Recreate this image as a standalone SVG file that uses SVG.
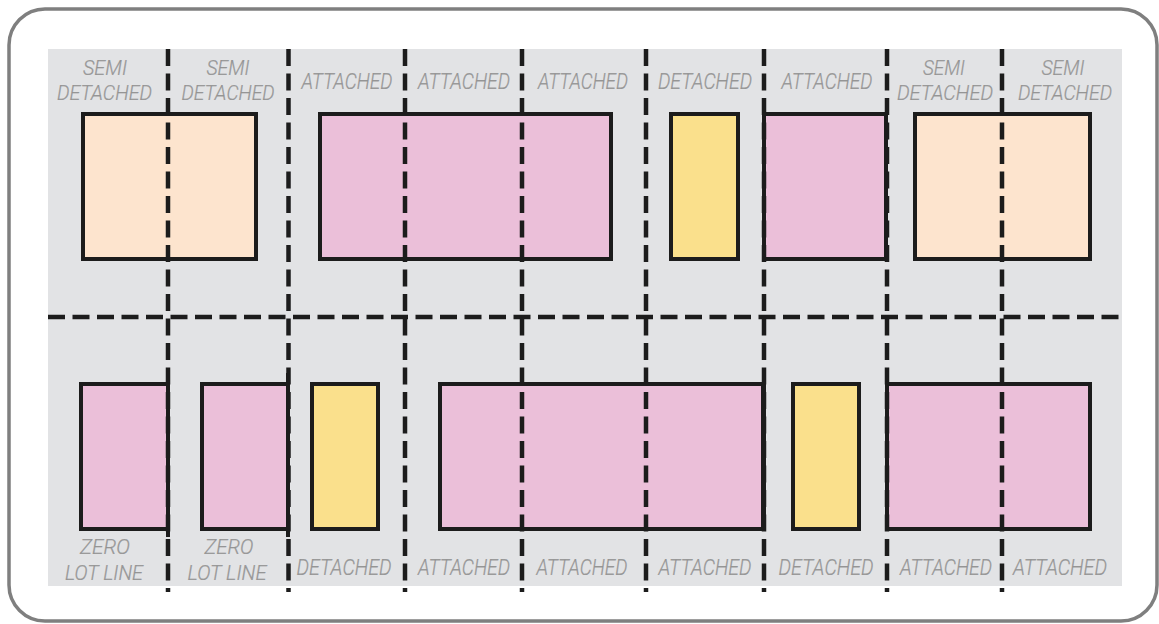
<svg xmlns="http://www.w3.org/2000/svg" width="1159" height="624" viewBox="0 0 1159 624">
<style>
.frame{fill:#fff;stroke:#7f7f7f;stroke-width:3.5}
.panel{fill:#e2e3e5}
.box{stroke:#1c1c1c;stroke-width:4}
.semi{fill:#fde4ce}
.att{fill:#ebbfd9}
.det{fill:#fae08c}
.lot{stroke:#1c1c1c;stroke-width:4.5;stroke-dasharray:17 7.5;fill:none}
.edge{stroke:#1c1c1c;stroke-width:4;fill:none}
text{font-family:Roboto,"Liberation Sans",Arial,sans-serif;font-weight:300;font-style:italic;text-anchor:middle;fill:#9a9a9a;stroke:#8a8a8a;stroke-width:0.2}
.l{font-size:22px}
.s{font-size:20px}
</style>
<rect class="frame" x="9" y="9" width="1148" height="612" rx="36"/>
<rect class="panel" x="48" y="49" width="1074" height="537"/>

<g id="row1">
<g id="n-semi1"><rect class="box semi" x="83" y="114" width="173" height="145"/></g>
<g id="n-att1"><rect class="box att" x="320" y="114" width="291" height="145"/></g>
<g id="n-det1"><rect class="box det" x="671" y="114" width="67" height="145"/></g>
<g id="n-att2"><rect class="box att" x="764" y="114" width="122" height="145"/></g>
<g id="n-semi2"><rect class="box semi" x="915" y="114" width="175" height="145"/></g>
</g>
<g id="row2">
<g id="n-zero1"><rect class="box att" x="81" y="384" width="87" height="145"/><line class="edge" x1="168" y1="373" x2="168" y2="537"/></g>
<g id="n-zero2"><rect class="box att" x="202" y="384" width="86" height="145"/><line class="edge" x1="288" y1="373" x2="288" y2="537"/></g>
<g id="n-det2"><rect class="box det" x="312" y="384" width="66" height="145"/></g>
<g id="n-att3"><rect class="box att" x="440" y="384" width="323" height="145"/></g>
<g id="n-det3"><rect class="box det" x="793" y="384" width="66" height="145"/></g>
<g id="n-att4"><rect class="box att" x="887" y="384" width="203" height="145"/></g>
</g>

<g id="connectors">
<line class="lot" x1="48" y1="317" x2="1122" y2="317"/>
<line class="lot" x1="168" y1="49" x2="168" y2="592"/>
<line class="lot" x1="288.5" y1="49" x2="288.5" y2="592"/>
<line class="lot" x1="405" y1="49" x2="405" y2="592"/>
<line class="lot" x1="522" y1="49" x2="522" y2="592"/>
<line class="lot" x1="646" y1="49" x2="646" y2="592"/>
<line class="lot" x1="764" y1="49" x2="764" y2="592"/>
<line class="lot" x1="887" y1="49" x2="887" y2="592"/>
<line class="lot" x1="1002" y1="49" x2="1002" y2="592"/>
<line class="edge" x1="764" y1="114" x2="764" y2="259"/>
<line class="edge" x1="887" y1="384" x2="887" y2="529"/>
<line class="edge" x1="764" y1="384" x2="764" y2="529"/>
</g>

<g id="labels-top">
<g id="t1"><text class="s" x="105" y="75" textLength="44" lengthAdjust="spacingAndGlyphs">SEMI</text><text class="s" x="104.5" y="100" textLength="95" lengthAdjust="spacingAndGlyphs">DETACHED</text></g>
<g id="t2"><text class="s" x="228" y="75" textLength="43" lengthAdjust="spacingAndGlyphs">SEMI</text><text class="s" x="228" y="100" textLength="93" lengthAdjust="spacingAndGlyphs">DETACHED</text></g>
<g id="t3"><text class="l" x="347" y="89" textLength="91" lengthAdjust="spacingAndGlyphs">ATTACHED</text></g>
<g id="t4"><text class="l" x="464" y="89" textLength="92" lengthAdjust="spacingAndGlyphs">ATTACHED</text></g>
<g id="t5"><text class="l" x="583" y="89" textLength="90" lengthAdjust="spacingAndGlyphs">ATTACHED</text></g>
<g id="t6"><text class="l" x="705" y="89" textLength="94" lengthAdjust="spacingAndGlyphs">DETACHED</text></g>
<g id="t7"><text class="l" x="827" y="89" textLength="91" lengthAdjust="spacingAndGlyphs">ATTACHED</text></g>
<g id="t8"><text class="s" x="944" y="75" textLength="42" lengthAdjust="spacingAndGlyphs">SEMI</text><text class="s" x="945" y="100" textLength="96" lengthAdjust="spacingAndGlyphs">DETACHED</text></g>
<g id="t9"><text class="s" x="1063" y="75" textLength="43" lengthAdjust="spacingAndGlyphs">SEMI</text><text class="s" x="1065" y="100" textLength="94" lengthAdjust="spacingAndGlyphs">DETACHED</text></g>
</g>
<g id="labels-bottom">
<g id="b1"><text class="s" x="105" y="554" textLength="50" lengthAdjust="spacingAndGlyphs">ZERO</text><text class="s" x="104" y="580" textLength="78" lengthAdjust="spacingAndGlyphs">LOT LINE</text></g>
<g id="b2"><text class="s" x="229" y="554" textLength="49" lengthAdjust="spacingAndGlyphs">ZERO</text><text class="s" x="227" y="580" textLength="79" lengthAdjust="spacingAndGlyphs">LOT LINE</text></g>
<g id="b3"><text class="l" x="344" y="575" textLength="95" lengthAdjust="spacingAndGlyphs">DETACHED</text></g>
<g id="b4"><text class="l" x="464" y="575" textLength="92" lengthAdjust="spacingAndGlyphs">ATTACHED</text></g>
<g id="b5"><text class="l" x="582" y="575" textLength="91" lengthAdjust="spacingAndGlyphs">ATTACHED</text></g>
<g id="b6"><text class="l" x="705" y="575" textLength="93" lengthAdjust="spacingAndGlyphs">ATTACHED</text></g>
<g id="b7"><text class="l" x="826" y="575" textLength="95" lengthAdjust="spacingAndGlyphs">DETACHED</text></g>
<g id="b8"><text class="l" x="946" y="575" textLength="92" lengthAdjust="spacingAndGlyphs">ATTACHED</text></g>
<g id="b9"><text class="l" x="1060" y="575" textLength="94" lengthAdjust="spacingAndGlyphs">ATTACHED</text></g>
</g>
</svg>
